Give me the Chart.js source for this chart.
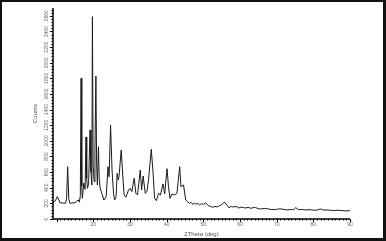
<!DOCTYPE html>
<html>
<head>
<meta charset="utf-8">
<script src="https://cdn.jsdelivr.net/npm/chart.js@4.4.1/dist/chart.umd.min.js"></script>
<style>
  html, body { margin: 0; padding: 0; background: #fff; }
  #frame {
    width: 386px; height: 241px; box-sizing: border-box;
    border-style: solid; border-color: #111;
    border-width: 2px 3px 3px 2px;
  }
  canvas { display: block; }
</style>
</head>
<body>
<div id="frame"><canvas id="xrd" width="381" height="236"></canvas></div>
<script>
// diffraction pattern
var twoTheta = [
  9.0, 9.6, 10.2, 10.9, 11.6, 12.4, 12.7, 13.0, 13.3, 13.6, 14.2, 15.0, 15.5, 15.9, 16.2, 16.45,
  16.66, 16.85, 17.0, 17.4, 17.75, 18.0, 18.2, 18.4, 18.7, 19.1, 19.35, 19.6, 19.75, 19.95,
  20.2, 20.45, 20.7, 20.9, 21.1, 21.4, 21.6, 21.85, 22.3, 22.9, 23.5, 24.0, 24.3, 24.7, 25.1,
  25.5, 25.8, 26.2, 26.5, 26.8, 27.0, 27.6, 28.1, 28.4, 28.9, 29.6, 30.05, 30.5, 31.15, 31.6,
  32.05, 32.8, 33.15, 33.6, 34.15, 34.6, 35.05, 35.8, 36.3, 36.7, 37.2, 37.8, 38.3, 39.0,
  39.45, 40.1, 40.5, 40.9, 41.45, 42.1, 42.8, 43.55, 43.9, 44.6, 45.2, 45.7, 46.2, 46.6, 47.2,
  47.6, 48.0, 48.5, 49.0, 49.5, 50.0, 50.6, 51.4, 52.0, 52.5, 53.2, 53.8, 54.4, 54.9, 55.6,
  56.0, 56.5, 56.9, 57.6, 58.2, 58.9, 59.6, 60.3, 60.9, 61.6, 62.2, 62.9, 63.6, 64.2, 65.0,
  65.6, 66.7, 67.8, 68.7, 69.7, 70.8, 71.9, 72.8, 73.8, 74.6, 75.2, 76.0, 77.0, 77.9, 78.8,
  79.8, 80.7, 81.5, 82.0, 82.8, 83.7, 84.7, 85.6, 86.5, 87.5, 88.7, 90.0
]
var counts = [
  210, 230, 286, 209, 205, 200, 260, 670, 260, 200, 205, 210, 230, 243, 215, 300,
  1800, 420, 265, 460, 380, 1050, 520, 393, 450, 1140, 600, 435, 2590, 700,
  478, 900, 1830, 700, 435, 925, 520, 397, 329, 243, 285, 670, 541, 1200, 627,
  329, 243, 285, 585, 500, 541, 883, 500, 307, 278, 371, 393, 350, 521, 329,
  307, 627, 371, 550, 329, 350, 500, 892, 585, 265, 235, 329, 307, 448,
  320, 644, 413, 265, 320, 307, 329, 670, 413, 435, 243, 221, 200, 215, 185,
  205, 188, 200, 179, 198, 185, 209, 170, 160, 150, 162, 154, 170, 179, 214,
  205, 175, 145, 160, 154, 162, 141, 152, 147, 140, 150, 137, 145, 147, 132,
  128, 136, 128, 120, 122, 130, 124, 116, 122, 118, 145, 119, 122, 115, 120,
  115, 112, 122, 128, 113, 116, 111, 108, 112, 109, 104, 106
]
var xTicks = [20, 30, 40, 50, 60, 70, 80, 90]
var yTicks = [0, 200, 400, 600, 800, 1000, 1200, 1400, 1600, 1800, 2000, 2200, 2400, 2600]

var points = twoTheta.map(function (t, i) { return { x: t, y: counts[i] } })

// axes, ticks and labels drawn by hand off the chart's own scales
var axesPlugin = {
  id: 'axesPlugin',
  afterDraw: function (chart) {
    var ctx = chart.ctx
    var a = chart.chartArea
    var xs = chart.scales.x
    var ys = chart.scales.y
    ctx.save()
    ctx.strokeStyle = '#000'
    ctx.lineWidth = 1.5
    ctx.beginPath()
    ctx.moveTo(a.left, a.top)
    ctx.lineTo(a.left, a.bottom)
    ctx.lineTo(a.right, a.bottom)
    ctx.stroke()

    ctx.lineWidth = 1
    ctx.beginPath()
    for (var d = 10; d <= 90; d++) {
      var px = Math.round(xs.getPixelForValue(d)) + 0.5
      var len = d % 10 == 0 ? 3 : 1.5
      ctx.moveTo(px, a.bottom)
      ctx.lineTo(px, a.bottom + len)
    }
    for (var v = 0; v <= 2700; v += 40) {
      var py = Math.round(ys.getPixelForValue(v)) + 0.5
      var l = v % 200 == 0 ? 3 : 1.5
      ctx.moveTo(a.left, py)
      ctx.lineTo(a.left - l, py)
    }
    ctx.stroke()

    ctx.fillStyle = '#666'
    ctx.font = '5px "Liberation Sans", Arial, sans-serif'
    ctx.textAlign = 'center'
    ctx.textBaseline = 'middle'
    xTicks.forEach(function (t) {
      ctx.fillText(String(t), xs.getPixelForValue(t), a.bottom + 6)
    })
    yTicks.forEach(function (t) {
      ctx.save()
      ctx.translate(a.left - 6, ys.getPixelForValue(t))
      ctx.rotate(-Math.PI / 2)
      ctx.fillText(String(t), 0, 0)
      ctx.restore()
    })

    ctx.fillStyle = '#6b4a2e'
    ctx.font = '6px "Liberation Sans", Arial, sans-serif'
    ctx.fillText('2Theta (deg)', (a.left + a.right) / 2, a.bottom + 15)
    ctx.save()
    ctx.translate(a.left - 18, (a.top + a.bottom) / 2)
    ctx.rotate(-Math.PI / 2)
    ctx.fillText('Counts', 0, 0)
    ctx.restore()
    ctx.restore()
  }
}

new Chart(document.getElementById('xrd'), {
  type: 'scatter',
  data: {
    datasets: [{
      data: points,
      showLine: true,
      borderColor: '#1a1a1a',
      borderWidth: 1,
      pointRadius: 0,
      tension: 0
    }]
  },
  options: {
    responsive: false,
    animation: false,
    layout: { padding: { left: 51, top: 6, right: 33, bottom: 19 } },
    plugins: { legend: { display: false }, tooltip: { enabled: false } },
    scales: {
      x: { type: 'linear', min: 9, max: 90, display: false },
      y: { type: 'linear', min: 0, max: 2700, display: false }
    }
  },
  plugins: [axesPlugin]
})
</script>
</body>
</html>
